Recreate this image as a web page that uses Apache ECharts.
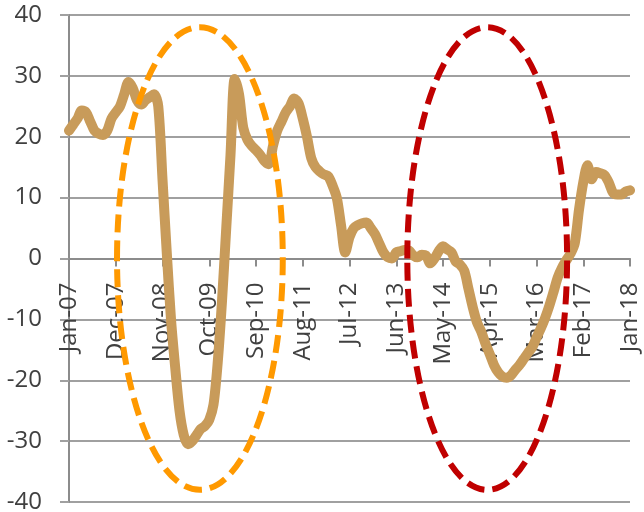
<!DOCTYPE html>
<html><head><meta charset="utf-8">
<script src="https://cdn.jsdelivr.net/npm/echarts@6/dist/echarts.min.js"></script>
<style>html,body{margin:0;padding:0;background:#fff}#c{width:644px;height:512px}</style>
</head><body><div id="c"></div>
<script>
// Month abbreviations and the span of the monthly series (Jan-07 .. Jan-18)
const monthNames = ['Jan','Feb','Mar','Apr','May','Jun','Jul','Aug','Sep','Oct','Nov','Dec'];
const firstYear = 2007;
const monthCount = 133;

// Monthly values
const values = [
  21, 22, 23, 24.3, 24, 22.5, 21, 20.5, 20.3, 21, 23, 24,        // 2007
  25, 27, 29, 28, 26, 25.3, 26, 26.5, 27, 25, 13, 1,              // 2008
  -10, -18, -25, -29, -30.5, -30, -29, -28, -27.5, -26.5, -24, -17, // 2009
  -7, 5, 17, 29.5, 27, 21.5, 19.5, 18.5, 17.8, 17, 16, 15.5,       // 2010
  18.5, 21, 22.5, 24, 25, 26.3, 25.5, 23, 20, 16.5, 15, 14.3,      // 2011
  13.8, 13.5, 12, 10, 5.5, 1, 3.5, 5, 5.5, 5.8, 5.9, 5,            // 2012
  4, 2.5, 1, 0.2, 0, 1, 1.2, 1.4, 1.3, 0.5, 0.2, 0.6,              // 2013
  0.5, -0.8, 0, 1.2, 2, 1.5, 1, -0.5, -1, -2, -5, -8,              // 2014
  -10.5, -12, -14, -15.7, -17.5, -18.7, -19.4, -19.6, -19.2, -18.3, -17.5, -16.5, // 2015
  -15.5, -14.6, -13, -11.5, -9.8, -7.8, -5.5, -3.1, -1.5, -0.3, 0.8, 2.5, // 2016
  8, 12.5, 15.3, 13, 14.2, 14, 13.7, 12.5, 10.8, 10.5, 10.5, 11,   // 2017
  11.2                                                              // Jan-18
];

// Dashed ellipse annotations (in data units: month index and value)
const ellipseCenterMonths = [30.8, 98.4];
const ellipseCenterValues = [0, 0];
const ellipseHalfMonths = [19.5, 18.8];
const ellipseHalfValues = [38, 38];

// Axis
const yMin = -40, yMax = 40, yStep = 10;
const labelEvery = 11;

const categories = [];
for (let i = 0; i < monthCount; i++) {
  const y = firstYear + Math.floor(i / 12);
  categories.push(monthNames[i % 12] + '-' + String(y % 100).padStart(2, '0'));
}

const ellipseColors = ['#ff9900', '#c00000'];
const textColor = '#404040';
const font = "'Open Sans', 'Noto Sans', sans-serif";
const gridTop = 15, gridBottom = 10, chartH = 512;
// move the category axis from the bottom edge up to the zero line
const zeroOffset = -(chartH - gridTop - gridBottom) * (0 - yMin) / (yMax - yMin);

const chart = echarts.init(document.getElementById('c'), null, {renderer: 'canvas'});
chart.setOption({
  animation: false,
  backgroundColor: '#ffffff',
  grid: {left: 69, right: 14, top: gridTop, bottom: gridBottom, containLabel: false, outerBoundsMode: 'none'},
  xAxis: {
    type: 'category',
    data: categories,
    boundaryGap: false,
    position: 'bottom',
    offset: zeroOffset,
    axisLine: {show: true, onZero: false, lineStyle: {color: '#8c8c8c', width: 2}},
    axisTick: {show: true, interval: labelEvery - 1, length: 8, lineStyle: {color: '#8c8c8c', width: 2}},
    axisLabel: {
      show: true, interval: labelEvery - 1, rotate: 90, margin: 24,
      align: 'right', verticalAlign: 'middle',
      color: textColor, fontSize: 24, fontFamily: font
    },
    splitLine: {show: false}
  },
  yAxis: {
    type: 'value',
    min: yMin, max: yMax, interval: yStep,
    axisLine: {show: true, onZero: false, lineStyle: {color: '#8c8c8c', width: 2}},
    axisTick: {show: true, length: 9, lineStyle: {color: '#a0a0a0', width: 2}},
    axisLabel: {margin: 27, color: textColor, fontSize: 24, fontFamily: font},
    splitLine: {show: true, lineStyle: {color: '#a0a0a0', width: 2}}
  },
  series: [
    {
      type: 'line',
      data: values,
      showSymbol: false,
      smooth: 0.3,
      lineStyle: {color: '#c89b5a', width: 10, cap: 'round', join: 'round'},
      z: 2
    },
    {
      type: 'custom',
      data: ellipseCenterMonths.map(() => [categories[0], 0]),
      clip: false,
      z: 5,
      renderItem: function (params, api) {
        const i = params.dataIndex;
        const p0 = api.coord([categories[0], 0]);
        const p1 = api.coord([categories[categories.length - 1], 0]);
        const perMonth = (p1[0] - p0[0]) / (categories.length - 1);
        const cx = p0[0] + ellipseCenterMonths[i] * perMonth;
        const cy = api.coord([categories[0], ellipseCenterValues[i]])[1];
        const top = api.coord([categories[0], ellipseCenterValues[i] + ellipseHalfValues[i]])[1];
        return {
          type: 'ellipse',
          shape: {cx: cx, cy: cy, rx: ellipseHalfMonths[i] * perMonth, ry: cy - top},
          style: {fill: 'none', stroke: ellipseColors[i], lineWidth: 6, lineDash: [18, 8]}
        };
      }
    }
  ]
});
</script></body></html>
